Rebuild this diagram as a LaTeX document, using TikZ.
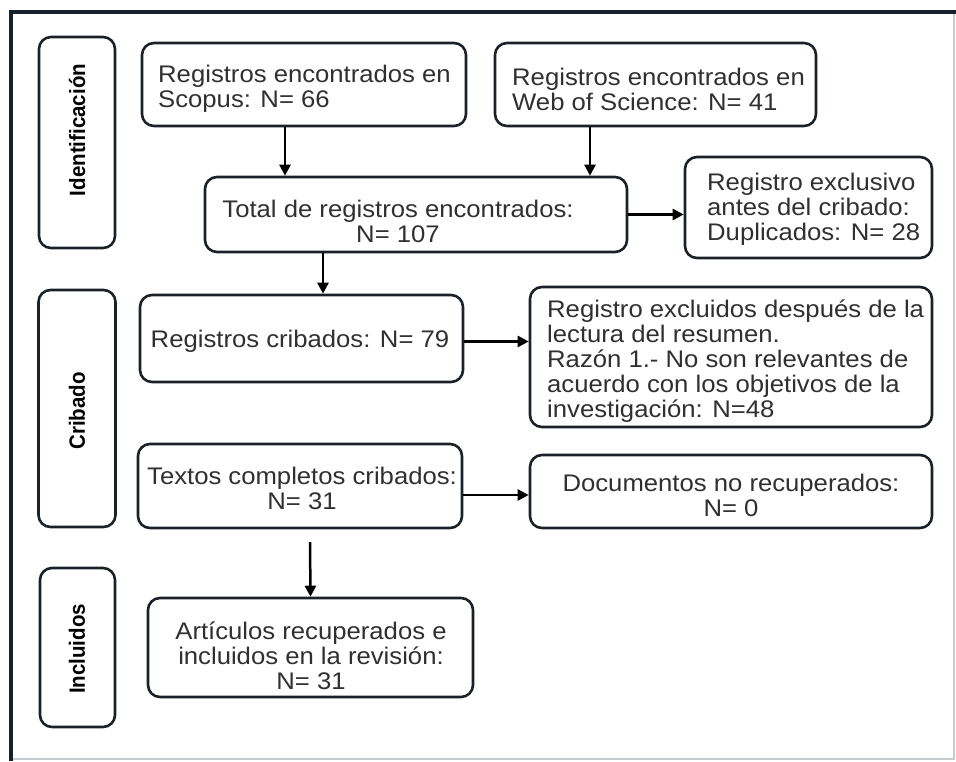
\documentclass[tikz,border=0pt]{standalone}
\usepackage{fontspec}
\setmainfont{Liberation Sans}[FakeStretch=1.07]
\newfontfamily\sidefont{Liberation Sans}
\usetikzlibrary{arrows.meta}
\definecolor{linec}{RGB}{28,33,40}
\definecolor{textc}{RGB}{48,48,48}
\definecolor{framec}{RGB}{22,32,42}
\definecolor{framelt}{RGB}{200,204,208}
\newcommand{\sidetext}[1]{\scalebox{1}[1.08]{#1}}
\tikzset{
  box/.style={draw=linec, line width=2.6pt, rounded corners=12pt, fill=white, inner sep=0pt},
  txt/.style={text=textc, inner sep=0pt, font=\fontsize{24}{25}\selectfont},
  side/.style={text=black, inner sep=0pt, rotate=90, font=\sidefont\bfseries\fontsize{20.5}{22}\selectfont},
  arr/.style={draw=black, line width=2.5pt, -{Triangle[length=11pt,width=11pt]}}
}
\begin{document}
\begin{tikzpicture}[x=1pt,y=-1pt]
\useasboundingbox (0,0) rectangle (956,761);
\fill[white] (0,0) rectangle (956,761);
% outer frame
\draw[framelt, line width=1.4pt] (954,12) -- (954,759) -- (11,759);
\draw[framec, line width=4pt] (11,761) -- (11,12) -- (956,12);

% side boxes
\node[box, minimum width=76pt, minimum height=211pt] (idside) at (77,142.5) {};
\node[box, minimum width=77pt, minimum height=237pt] (cribside) at (77,408.5) {};
\node[box, minimum width=75pt, minimum height=159pt] (inclside) at (77.5,647.5) {};
\node[side] (idlab) at (77,130) {\sidetext{Identificación}};
\node[side] (criblab) at (77,411) {\sidetext{Cribado}};
\node[side] (incllab) at (77,649) {\sidetext{Incluidos}};

% main boxes
\node[box, minimum width=324pt, minimum height=83pt] (scopus) at (304,84.5) {};
\node[box, minimum width=321pt, minimum height=83pt] (wos) at (655.5,84.5) {};
\node[box, minimum width=422pt, minimum height=75pt] (total) at (416,214.5) {};
\node[box, minimum width=247pt, minimum height=101pt] (dup) at (808.5,207.5) {};
\node[box, minimum width=323pt, minimum height=87pt] (regcrib) at (301.5,338.5) {};
\node[box, minimum width=402pt, minimum height=140pt] (excl) at (731,357) {};
\node[box, minimum width=324pt, minimum height=84pt] (textos) at (300,486) {};
\node[box, minimum width=402pt, minimum height=73pt] (docs) at (731,491.5) {};
\node[box, minimum width=325pt, minimum height=99pt] (art) at (310.5,647.5) {};

% texts
\node[txt, align=left, anchor=west] (scopusT) at (158,89) {Registros encontrados en\\Scopus: N= 66};
\node[txt, align=left, anchor=west] (wosT) at (512,89) {Registros encontrados en\\Web of Science: N= 41};
\node[txt, align=center] (totalT) at (398,221) {Total de registros encontrados:\\N= 107};
\node[txt, align=left, anchor=west] (dupT) at (707,209) {Registro exclusivo\\antes del cribado:\\Duplicados: N= 28};
\node[txt] (regcribT) at (300,341) {Registros cribados: N= 79};
\node[txt, align=left, anchor=west] (exclT) at (547,361) {Registro excluidos después de la\\lectura del resumen.\\Razón 1.- No son relevantes de\\acuerdo con los objetivos de la\\investigación: N=48};
\node[txt, align=center] (textosT) at (302,488) {Textos completos cribados:\\N= 31};
\node[txt, align=center] (docsT) at (731,495) {Documentos no recuperados:\\N= 0};
\node[txt, align=center] (artT) at (311,656) {Artículos recuperados e\\incluidos en la revisión:\\N= 31};

% connectors
\draw[arr] ([xshift=-19pt]scopus.south) -- ([xshift=-19pt]scopus.south |- total.north);
\draw[arr] ([xshift=-65.5pt]wos.south) -- ([xshift=-65.5pt]wos.south |- total.north);
\draw[arr] (total.east) -- (total.east -| dup.west);
\draw[arr] ([xshift=-93pt]total.south) -- ([xshift=-93pt]total.south |- regcrib.north);
\draw[arr] ([yshift=-3pt]regcrib.east) -- ([yshift=-3pt]regcrib.east -| excl.west);
\draw[arr] ([yshift=-9pt]textos.east) -- ([yshift=-9pt]textos.east -| docs.west);
\coordinate (artstart) at (310,542);
\draw[arr] (artstart) -- (art.north);
\end{tikzpicture}
\end{document}
